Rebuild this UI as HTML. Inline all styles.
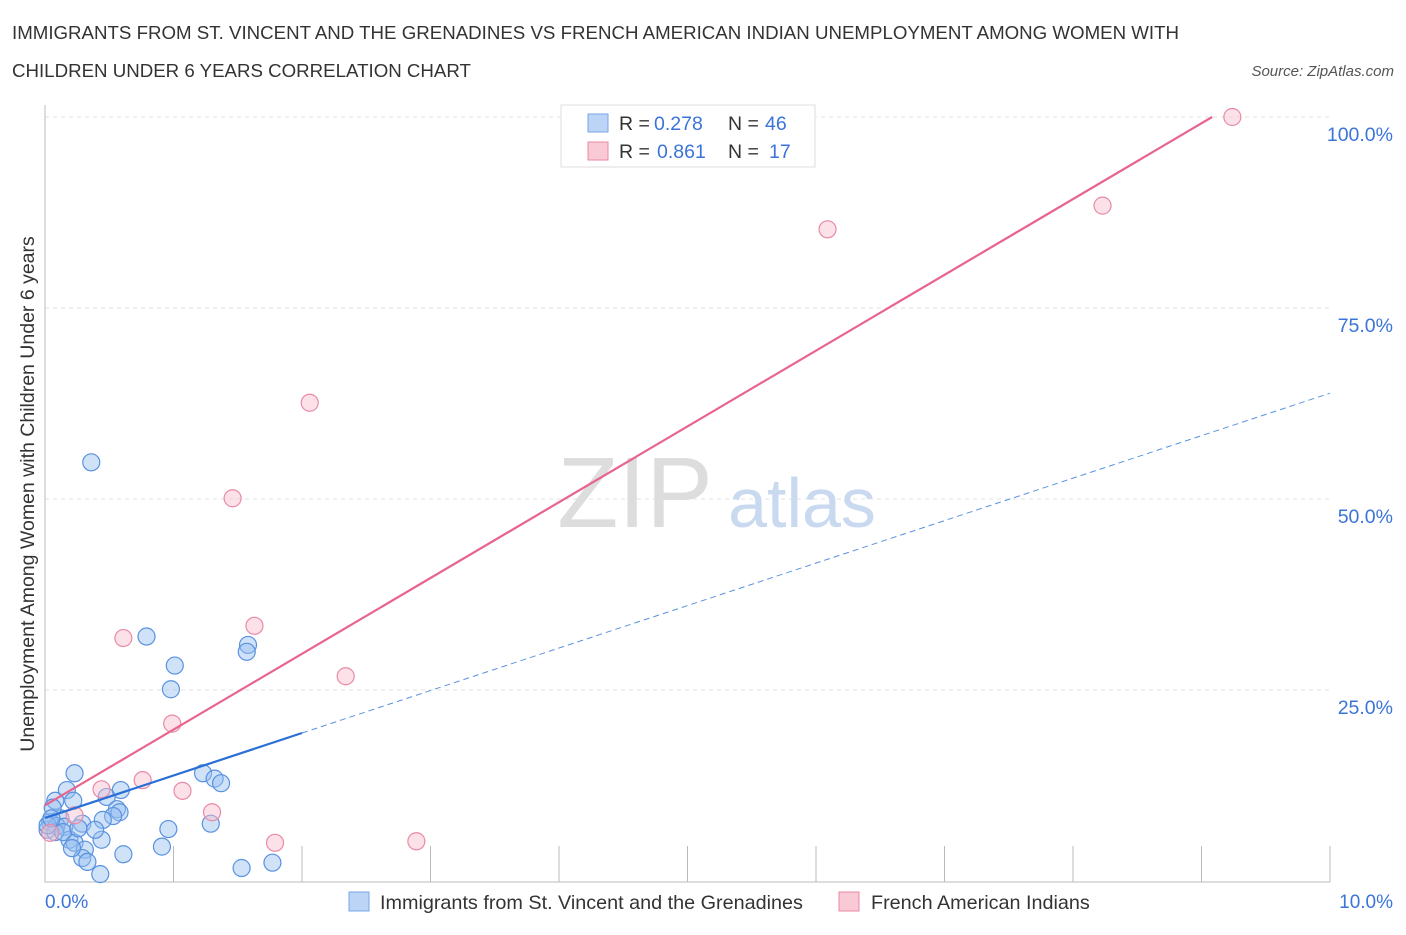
<!DOCTYPE html>
<html><head><meta charset="utf-8"><style>
body{margin:0;background:#fff;font-family:"Liberation Sans",sans-serif;}
svg text{font-family:"Liberation Sans",sans-serif;}
</style></head><body>
<svg width="1406" height="930" xmlns="http://www.w3.org/2000/svg">
<text x="12" y="39" font-size="18.7" fill="#333">IMMIGRANTS FROM ST. VINCENT AND THE GRENADINES VS FRENCH AMERICAN INDIAN UNEMPLOYMENT AMONG WOMEN WITH</text>
<text x="12" y="77" font-size="18.7" fill="#333">CHILDREN UNDER 6 YEARS CORRELATION CHART</text>
<text x="1394" y="76" font-size="15" fill="#555" font-style="italic" text-anchor="end">Source: ZipAtlas.com</text>
<g id="grid"></g>
<text x="635" y="527" font-size="100" fill="#ddd" font-family="Liberation Serif" text-anchor="middle">ZIP</text>
<text x="802" y="527" font-size="70" fill="#c9d9f0" text-anchor="middle">atlas</text>
<g id="points"></g>
<g id="lines"></g>
<text transform="translate(34,494) rotate(-90)" font-size="19.5" fill="#333" text-anchor="middle">Unemployment Among Women with Children Under 6 years</text>
<g>
<rect x="561" y="105" width="254" height="62" fill="#fff" stroke="#ddd"/>
<rect x="588" y="114" width="20" height="18" fill="#bcd4f5" stroke="#7aa6e6"/>
<text x="619" y="130" font-size="19.5" fill="#333">R =</text>
<text x="654" y="130" font-size="19.5" fill="#3b74d9">0.278</text>
<text x="728" y="130" font-size="19.5" fill="#333">N =</text>
<text x="765" y="130" font-size="19.5" fill="#3b74d9">46</text>
<rect x="588" y="142" width="20" height="18" fill="#f9c9d6" stroke="#e88aa6"/>
<text x="619" y="158" font-size="19.5" fill="#333">R =</text>
<text x="657" y="158" font-size="19.5" fill="#3b74d9">0.861</text>
<text x="728" y="158" font-size="19.5" fill="#333">N =</text>
<text x="769" y="158" font-size="19.5" fill="#3b74d9">17</text>
</g>
<g>
<rect x="349" y="892" width="20" height="19" fill="#bcd4f5" stroke="#7aa6e6"/>
<text x="380" y="909" font-size="19.8" fill="#333">Immigrants from St. Vincent and the Grenadines</text>
<rect x="839" y="892" width="20" height="19" fill="#f9c9d6" stroke="#e88aa6"/>
<text x="871" y="909" font-size="19.8" fill="#333">French American Indians</text>
</g>
<text x="45" y="908" font-size="19" fill="#3b74d9">0.0%</text>
<text x="1393" y="908" font-size="19" fill="#3b74d9" text-anchor="end">10.0%</text>
</svg>
<script>
const yTicks=[25,50,75,100];
const yTickLabels=["25.0%","50.0%","75.0%","100.0%"];
const blueX=[0.36,0.79,1.01,0.98,1.58,1.57,0.23,0.17,0.08,0.22,0.48,0.59,0.56,0.58,0.53,1.23,1.32,1.37,0.96,1.29,0.45,0.29,0.12,0.06,0.04,0.02,0.09,0.15,0.19,0.23,0.31,0.29,0.33,0.21,0.44,0.61,0.91,0.43,1.53,1.77,0.08,0.02,0.14,0.26,0.39,0.05];
const blueY=[54.8,32.0,28.2,25.1,30.9,30.0,14.1,11.9,10.5,10.5,11.0,11.9,9.4,9.0,8.5,14.1,13.4,12.8,6.8,7.5,8.0,7.5,8.2,9.6,7.7,6.7,7.2,7.1,5.4,5.0,4.1,3.0,2.5,4.3,5.4,3.5,4.5,0.9,1.7,2.4,6.4,7.3,6.4,6.9,6.7,8.2];
const pinkX=[9.24,8.23,6.09,2.06,1.46,0.61,1.63,2.34,0.99,0.76,0.44,1.07,1.30,1.79,2.89,0.04,0.23];
const pinkY=[100,88.4,85.3,62.6,50.1,31.8,33.4,26.8,20.6,13.2,12.0,11.8,9.0,5.0,5.2,6.3,8.6];
const blueLine=[8.25,5.56], pinkLine=[9.9,9.92];
const X=v=>45+v*128.5, Y=v=>881-v*7.64;
const NS="http://www.w3.org/2000/svg";
function mk(t,a,p){const e=document.createElementNS(NS,t);for(const k in a)e.setAttribute(k,a[k]);p.appendChild(e);return e;}
const g=document.getElementById('grid');
yTicks.forEach((t,i)=>{
 const l=mk('line',{x1:45,x2:1330,y1:Y(t),y2:Y(t),stroke:'#e2e2e2','stroke-dasharray':'4,4'},g);
 
 
 const tx=mk('text',{x:1393,y:Y(t)+24,'font-size':19.5,fill:'#3b74d9','text-anchor':'end'},g);
 tx.textContent=yTickLabels[i];
 
 
});
const ax=mk('path',{d:'M45,105V882H1330',stroke:'#bbb',fill:'none'},g);


for(let i=1;i<=10;i++){const t=mk('line',{x1:45+i*128.5,x2:45+i*128.5,y1:846,y2:882,stroke:'#bbb'},g);
 
 }
const pg=document.getElementById('points');
blueX.forEach((x,i)=>{const c=mk('circle',{cx:X(x),cy:Y(blueY[i]),r:8.5,fill:'rgba(150,190,240,0.45)',stroke:'#5a92e0','stroke-width':1.2},pg);
 
 });
pinkX.forEach((x,i)=>{const c=mk('circle',{cx:X(x),cy:Y(pinkY[i]),r:8.5,fill:'rgba(248,190,205,0.45)',stroke:'#e88aa6','stroke-width':1.2},pg);
 
 });
const lg=document.getElementById('lines');
const px2=(100-pinkLine[0])/pinkLine[1];
const pl=mk('line',{x1:X(0),y1:Y(pinkLine[0]),x2:X(px2),y2:Y(100),stroke:'#e8648e','stroke-width':2.2},lg);


const bl=mk('line',{x1:X(0),y1:Y(blueLine[0]),x2:X(2),y2:Y(blueLine[0]+2*blueLine[1]),stroke:'#2a6fd6','stroke-width':2.2},lg);


const bd=mk('line',{x1:X(2),y1:Y(blueLine[0]+2*blueLine[1]),x2:X(10),y2:Y(blueLine[0]+10*blueLine[1]),stroke:'#5a92e0','stroke-width':1,'stroke-dasharray':'6,4'},lg);


</script>
</body></html>
